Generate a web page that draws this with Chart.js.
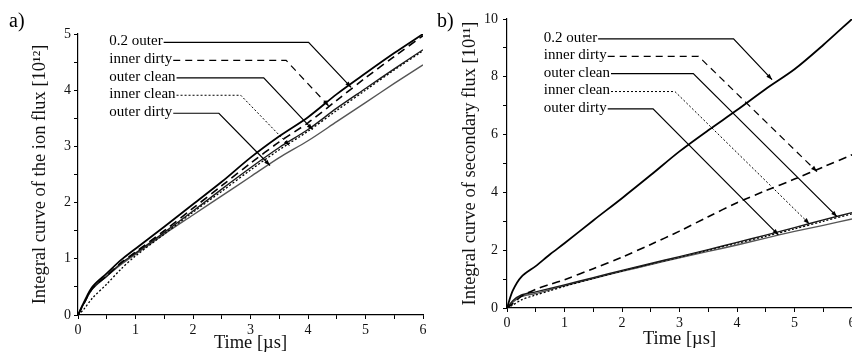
<!DOCTYPE html>
<html lang="en">
<head>
<meta charset="UTF-8">
<title>Integral curves of ion and secondary flux</title>
<script src="https://cdn.jsdelivr.net/npm/chart.js@4.4.0/dist/chart.umd.min.js"></script>
<style>
  body { margin: 0; background: #fff; }
  #wrap { position: relative; width: 852px; height: 352px; }
  canvas { position: absolute; top: 0; }
</style>
</head>
<body>
<div id="wrap">
  <canvas id="chartA" width="430" height="352" style="left:0"></canvas>
  <canvas id="chartB" width="422" height="352" style="left:430px"></canvas>
</div>
<script>
// time axis, microseconds
const timeUs = [0, 0.1, 0.25, 0.5, 0.75, 1, 1.5, 2, 2.5, 3, 3.5, 4, 4.5, 5, 5.5, 6];
const seriesNames = ['0.2 outer', 'inner dirty', 'outer clean', 'inner clean', 'outer dirty'];

// a) integral of ion flux, 10^12
const ionOuter02    = [0, 0.22, 0.50, 0.74, 0.98, 1.18, 1.57, 1.97, 2.37, 2.80, 3.18, 3.52, 3.93, 4.30, 4.66, 5.00];
const ionInnerDirty = [0, 0.20, 0.47, 0.70, 0.93, 1.12, 1.50, 1.90, 2.30, 2.70, 3.08, 3.42, 3.82, 4.22, 4.60, 4.97];
const ionOuterClean = [0, 0.20, 0.47, 0.69, 0.92, 1.10, 1.47, 1.85, 2.24, 2.62, 2.98, 3.30, 3.68, 4.03, 4.38, 4.72];
const ionInnerClean = [0, 0.10, 0.30, 0.55, 0.82, 1.05, 1.44, 1.83, 2.20, 2.58, 2.94, 3.27, 3.64, 4.00, 4.36, 4.70];
const ionOuterDirty = [0, 0.20, 0.46, 0.69, 0.90, 1.08, 1.44, 1.78, 2.12, 2.46, 2.80, 3.10, 3.44, 3.78, 4.12, 4.45];

// b) integral of secondary flux, 10^11
const secOuter02    = [0, 0.60, 1.08, 1.45, 1.86, 2.24, 3.03, 3.80, 4.60, 5.42, 6.15, 6.85, 7.58, 8.26, 9.10, 10.0];
const secInnerDirty = [0, 0.15, 0.40, 0.65, 0.82, 0.98, 1.36, 1.76, 2.20, 2.66, 3.16, 3.64, 4.06, 4.46, 4.88, 5.30];
const secOuterClean = [0, 0.25, 0.45, 0.56, 0.68, 0.80, 1.05, 1.30, 1.54, 1.78, 2.02, 2.27, 2.52, 2.78, 3.05, 3.30];
const secInnerClean = [0, 0.10, 0.28, 0.45, 0.60, 0.75, 1.02, 1.28, 1.52, 1.76, 2.00, 2.24, 2.48, 2.74, 3.00, 3.26];
const secOuterDirty = [0, 0.20, 0.40, 0.50, 0.64, 0.77, 1.02, 1.27, 1.50, 1.74, 1.96, 2.18, 2.42, 2.65, 2.86, 3.08];

// callout anchors in data units: label row, elbow of the leader, arrow tip on the curve
const noteXA = 0.545;
const noteRowA = [4.85, 4.53, 4.22, 3.91, 3.59];
const elbowA = [4.01, 3.62, 3.23, 2.83, 2.45];
const tipA = [[4.75, 4.05], [4.36, 3.72], [4.08, 3.30], [3.68, 3.01], [3.34, 2.66]];

const noteXB = 0.64;
const noteRowB = [9.31, 8.71, 8.11, 7.49, 6.89];
const elbowB = [3.94, 3.33, 3.24, 2.92, 2.54];
const tipB = [[4.61, 7.90], [5.39, 4.72], [5.74, 3.16], [5.26, 2.91], [4.72, 2.53]];

const serif = '"Liberation Serif", "Times New Roman", serif';
Chart.defaults.font.family = serif;
Chart.defaults.color = '#111';

// curve look per series, same order as seriesNames
const looks = [
  { color: '#000', width: 1.8, dash: [] },
  { color: '#000', width: 1.6, dash: [8, 5] },
  { color: '#1a1a1a', width: 1.4, dash: [] },
  { color: '#000', width: 1.3, dash: [2, 2] },
  { color: '#555', width: 1.4, dash: [] }
];
const leaderDash = [[], [7, 5], [], [2, 2], []];

function arrowHead(ctx, x0, y0, x1, y1) {
  const a = Math.atan2(y1 - y0, x1 - x0);
  ctx.save();
  ctx.setLineDash([]);
  ctx.beginPath();
  ctx.moveTo(x1, y1);
  ctx.lineTo(x1 - 6 * Math.cos(a) + 2.2 * Math.sin(a), y1 - 6 * Math.sin(a) - 2.2 * Math.cos(a));
  ctx.lineTo(x1 - 6 * Math.cos(a) - 2.2 * Math.sin(a), y1 - 6 * Math.sin(a) + 2.2 * Math.cos(a));
  ctx.closePath();
  ctx.fill();
  ctx.restore();
}

const calloutPlugin = {
  id: 'callouts',
  afterDatasetsDraw(chart, args, opts) {
    const { ctx, scales: { x, y } } = chart;
    ctx.save();
    ctx.fillStyle = '#000';
    ctx.strokeStyle = '#000';
    ctx.font = '15px ' + serif;
    ctx.textBaseline = 'middle';
    seriesNames.forEach((name, i) => {
      const tx = x.getPixelForValue(opts.noteX);
      const ty = y.getPixelForValue(opts.rows[i]);
      ctx.fillText(name, tx, ty - 1);
      const x0 = tx + ctx.measureText(name).width + 1;
      const ex = x.getPixelForValue(opts.elbows[i]);
      const px = x.getPixelForValue(opts.tips[i][0]);
      const py = y.getPixelForValue(opts.tips[i][1]);
      ctx.lineWidth = i === 3 ? 1 : 1.2;
      ctx.setLineDash(leaderDash[i]);
      ctx.beginPath();
      ctx.moveTo(x0, ty);
      ctx.lineTo(ex, ty);
      ctx.lineTo(px, py);
      ctx.stroke();
      arrowHead(ctx, ex, ty, px, py);
    });
    // panel tag
    ctx.font = '20px ' + serif;
    ctx.textBaseline = 'alphabetic';
    ctx.fillText(opts.tag, opts.tagX, 27);
    ctx.restore();
  }
};

function makeChart(id, series, cfg) {
  const datasets = series.map((vals, i) => ({
    label: seriesNames[i],
    data: vals.map((v, j) => ({ x: timeUs[j], y: v })),
    borderColor: looks[i].color,
    borderWidth: looks[i].width,
    borderDash: looks[i].dash,
    pointRadius: 0,
    tension: 0.3,
    fill: false
  }));
  return new Chart(document.getElementById(id), {
    type: 'line',
    data: { datasets },
    options: {
      responsive: false,
      animation: false,
      devicePixelRatio: 1,
      layout: { padding: { top: cfg.top, right: cfg.right, left: 0, bottom: 0 } },
      plugins: {
        legend: { display: false },
        tooltip: { enabled: false },
        callouts: { noteX: cfg.noteX, rows: cfg.rows, elbows: cfg.elbows, tips: cfg.tips, tag: cfg.tag, tagX: cfg.tagX }
      },
      scales: {
        x: {
          type: 'linear', min: 0, max: 6,
          border: { display: true, color: '#000', width: 1.2 },
          grid: { drawOnChartArea: false, tickLength: 4, color: '#000' },
          ticks: {
            stepSize: 0.5, autoSkip: false, padding: 3, maxRotation: 0,
            font: { size: 14 }, color: '#111',
            callback: v => Number.isInteger(v) ? v : ''
          },
          title: {
            display: true, text: 'Time [µs]', color: '#111',
            font: { size: 18.5, lineHeight: 1 },
            padding: { top: 0, bottom: cfg.xTitlePad }
          },
          afterFit: s => { s.height = cfg.xHeight; s.paddingLeft = 0; s.paddingRight = 0; }
        },
        y: {
          min: 0, max: cfg.yMax,
          border: { display: true, color: '#000', width: 1.2 },
          grid: { drawOnChartArea: false, tickLength: 4, color: '#000' },
          ticks: {
            stepSize: cfg.yStep, autoSkip: false, padding: cfg.yPad,
            font: { size: 14 }, color: '#111',
            callback: cfg.yLabel
          },
          title: {
            display: true, text: cfg.yTitle, color: '#111',
            font: { size: 18.5, lineHeight: 1 },
            padding: { top: 30.5, bottom: 0 }
          },
          afterFit: s => { s.width = cfg.yWidth; s.paddingTop = 0; s.paddingBottom = 0; }
        }
      }
    },
    plugins: [calloutPlugin]
  });
}

makeChart('chartA', [ionOuter02, ionInnerDirty, ionOuterClean, ionInnerClean, ionOuterDirty], {
  top: 34, right: 7, xHeight: 37, yWidth: 78, xTitlePad: 0,
  yMax: 5, yStep: 0.5, yPad: 3,
  yLabel: v => Number.isInteger(v) ? v : '',
  yTitle: 'Integral curve of the ion flux [10¹²]',
  noteX: noteXA, rows: noteRowA, elbows: elbowA, tips: tipA,
  tag: 'a)', tagX: 9
});

makeChart('chartB', [secOuter02, secInnerDirty, secOuterClean, secInnerClean, secOuterDirty], {
  top: 19, right: 0, xHeight: 44, yWidth: 77, xTitlePad: 4,
  yMax: 10, yStep: 1, yPad: 5,
  yLabel: v => v % 2 === 0 ? v : '',
  yTitle: 'Integral curve of secondary flux [10¹¹]',
  noteX: noteXB, rows: noteRowB, elbows: elbowB, tips: tipB,
  tag: 'b)', tagX: 7
});
</script>
</body>
</html>
